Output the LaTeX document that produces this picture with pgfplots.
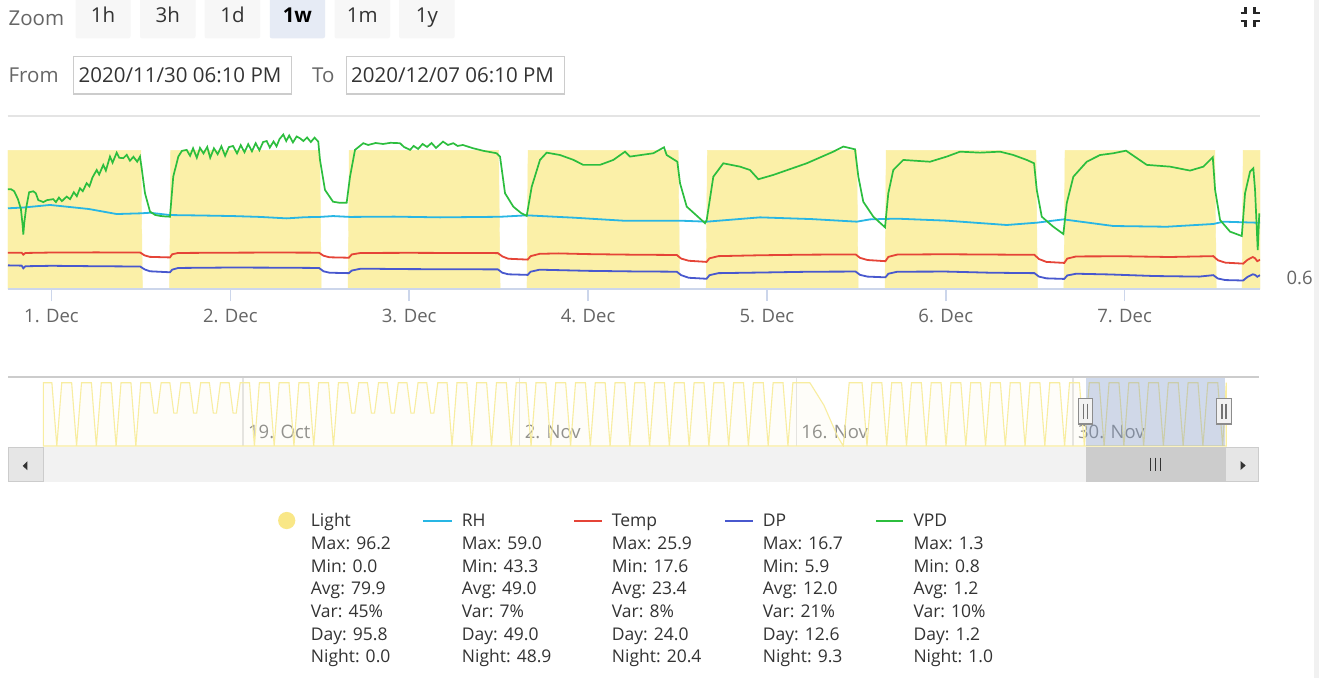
\documentclass[border=0pt]{standalone}
\usepackage{fontspec}
\setmainfont{Open Sans}
\usepackage{pgfplots}
\pgfplotsset{compat=1.18}
\definecolor{axisc}{RGB}{204,214,235}
\definecolor{gridc}{RGB}{228,228,228}
\definecolor{labelc}{RGB}{102,102,102}
\definecolor{navlabc}{RGB}{140,140,140}
\definecolor{textc}{RGB}{51,51,51}
\definecolor{lightc}{RGB}{251,240,168}
\definecolor{lightdot}{RGB}{249,231,135}
\definecolor{navline}{RGB}{248,237,160}
\definecolor{rhc}{RGB}{40,182,228}
\definecolor{tempc}{RGB}{229,68,55}
\definecolor{dpc}{RGB}{72,88,206}
\definecolor{vpdc}{RGB}{44,190,62}
\definecolor{btnc}{RGB}{247,247,247}
\definecolor{btnsel}{RGB}{230,235,245}
\definecolor{boxc}{RGB}{204,204,204}
\definecolor{maskc}{RGB}{102,133,194}
\definecolor{scrollbg}{RGB}{242,242,242}
\definecolor{scrollbtn}{RGB}{230,230,230}
\definecolor{thumbc}{RGB}{204,204,204}
\definecolor{stripc}{RGB}{241,241,241}
\newcommand{\uifont}{\fontsize{20.5}{24}\selectfont}
\newcommand{\lgfont}{\fontsize{17.5}{21}\selectfont}
\newcommand{\tkfont}{\fontsize{18.5}{22}\selectfont}
\begin{document}
\begin{tikzpicture}
\begin{scope}[x=1pt,y=-1pt]
\path[use as bounding box] (0,0) rectangle (1319,678);
\fill[white] (0,0) rectangle (1319,678);
\fill[stripc] (1314,0) rectangle (1319,678);
% zoom buttons
\node[anchor=base west,inner sep=0,text=labelc,font=\uifont] at (8.4,25.3) {Zoom};
\foreach \a/\b/\t in {75.5/130.5/1h,140/195.5/3h,204.7/260.2/1d,334.5/390/1m,399/454.6/1y}{
  \fill[btnc,rounded corners=2pt] (\a,-4) rectangle (\b,38.3);
  \node[anchor=base,inner sep=0,text=textc,font=\uifont] at ({(\a+\b)/2},22.3) {\t};
}
\fill[btnsel,rounded corners=2pt] (269.8,-4) rectangle (325,38.3);
\node[anchor=base,inner sep=0,text=black,font=\uifont\bfseries] at (297.4,22.3) {1w};
% from / to
\node[anchor=base west,inner sep=0,text=labelc,font=\uifont] at (8.4,82.3) {From};
\draw[boxc,line width=1.5pt,fill=white] (73.5,56.7) rectangle (291.5,94);
\node[anchor=base west,inner sep=0,text=textc,font=\uifont] at (78.5,82.3) {2020/11/30 06:10 PM};
\node[anchor=base west,inner sep=0,text=labelc,font=\uifont] at (312,82.3) {To};
\draw[boxc,line width=1.5pt,fill=white] (346.3,56.7) rectangle (564.5,94);
\node[anchor=base west,inner sep=0,text=textc,font=\uifont] at (351,82.3) {2020/12/07 06:10 PM};
% collapse icon
\begin{scope}[line width=2.6pt,black!85]
\draw (1240.5,13) -- (1245.5,13) -- (1245.5,7.3);
\draw (1259.5,13) -- (1254.5,13) -- (1254.5,7.3);
\draw (1240.5,21) -- (1245.5,21) -- (1245.5,26.7);
\draw (1259.5,21) -- (1254.5,21) -- (1254.5,26.7);
\end{scope}
\end{scope}

% main chart: Light, RH, Temp, DP
\begin{axis}[
  at={(8pt,-289pt)}, anchor=south west,
  scale only axis, width=1252pt, height=173pt,
  xmin=-5.8333, xmax=162.1667, ymin=0, ymax=120,
  axis line style={draw=none},
  ytick=\empty,
  xtick={0,24,48,72,96,120,144},
  xticklabels={1. Dec,2. Dec,3. Dec,4. Dec,5. Dec,6. Dec,7. Dec},
  xtick pos=left, xticklabel pos=left, tick align=outside, major tick length=12pt,
  xtick style={draw=axisc, line width=1.5pt},
  xticklabel style={font=\tkfont, text=labelc, yshift=-5pt},
  clip mode=individual,
]
\addplot[draw=lightc, fill=lightc, line width=0.4pt] coordinates {
(-5.8333,96.2)(12.0,96.2)(12.2,0)(15.85,0)(16.0,96.2)
(36.0,96.2)(36.2,0)(39.8,0)(39.95,96.2)
(60.0,96.2)(60.2,0)(63.8,0)(63.95,96.2)
(84.1,96.2)(84.3,0)(87.85,0)(88.0,96.2)
(108.05,96.2)(108.25,0)(111.85,0)(112.0,96.2)
(132.1,96.2)(132.3,0)(135.85,0)(136.0,96.2)
(156.1,96.2)(156.3,0)(159.75,0)(159.9,96.2)(162.1667,96.2)
} \closedcycle;
% RH
\addplot[rhc, line width=1.8pt] coordinates {
(-5.8333,56.0)(-3.8,56.5)(-0.2,58.3)(2.04,57.1)(5,55.5)(8.75,52.0)(12,52.5)(13.22,52.9)
(15.9,51.3)(20,51.0)(24.36,50.6)(28,50.0)(31.56,49.0)(34,49.8)(36,50.0)(37.78,50.6)
(40.06,50.0)(46,50.2)(52.13,49.7)(60.19,50.1)(63.77,51.1)(70,49.5)(76.69,47.4)(84.34,47.4)
(87.92,46.7)(95.07,49.7)(102,48.5)(108.05,46.7)(109.84,48.3)(113.42,48.8)(120.13,47.4)
(128.18,44.4)(132.21,46.0)(135.78,48.3)(142.49,43.7)(149.65,43.2)(155.90,45.1)(157.25,46.7)
(161.73,46.0)(162.1667,46.0)
};
% Temp
\addplot[tempc, line width=1.8pt] coordinates {
(-5.8333,25.2)(-4.0,25.2)(-3.78,23.8)(-3.5,25.0)(0,25.3)(6,25.4)(11.9,25.3)(12.5,23.3)(13.2,22.3)
(15.9,21.9)(16.2,24.1)(17,25.0)(24,25.2)(30,25.3)(35.9,25.2)(36.5,23.1)(37.3,22.0)(39.9,21.7)
(40.3,24.0)(41.5,25.0)(48,25.1)(54,25.0)(59.9,24.9)(60.5,22.6)(61.3,21.0)(63.9,20.4)(64.3,22.8)
(65.5,24.4)(68,24.7)(72,24.2)(78,23.8)(83.9,23.6)(84.5,21.1)(85.5,19.6)(87.9,18.8)(88.3,21.3)
(89.5,22.8)(95,23.4)(101,23.8)(107.9,24.0)(108.5,21.6)(109.5,20.1)(111.9,19.3)(112.3,22.3)
(113.5,23.9)(120,24.1)(126,23.9)(131.9,23.7)(132.5,20.8)(133.5,18.8)(135.9,18.1)(136.3,21.1)
(137.5,22.6)(144,22.7)(150,22.2)(155.9,22.8)(156.5,20.0)(157.5,18.3)(159.9,17.6)(160.5,20.3)
(161.2,22.2)(161.5,21.3)(161.8,19.3)(162.1667,20.3)
};
% DP
\addplot[dpc, line width=1.8pt] coordinates {
(-5.8333,16.4)(-4.0,16.2)(-3.78,14.4)(-3.5,15.8)(0,16.1)(6,15.8)(11.9,15.6)(12.5,13.6)(13.2,12.3)
(15.9,11.6)(16.2,13.4)(17,14.6)(24,14.9)(30,14.8)(35.9,14.6)(36.5,12.3)(37.3,11.3)(39.9,11.0)
(40.3,12.8)(41.5,14.1)(48,13.8)(54,13.7)(59.9,13.6)(60.5,11.3)(61.3,10.2)(63.9,9.8)(64.3,12.0)
(65.5,13.4)(72,12.6)(78,12.2)(83.9,12.0)(84.5,9.6)(85.5,7.8)(87.9,7.1)(88.3,9.6)(89.5,11.0)
(96,11.5)(102,12.0)(107.9,12.1)(108.5,9.8)(109.5,8.6)(111.9,8.1)(112.3,10.6)(113.5,12.0)
(120,12.1)(126,11.3)(131.9,11.0)(132.5,8.6)(133.5,7.4)(135.9,7.0)(136.3,9.4)(137.5,10.6)
(142,10.1)(148,9.0)(154,8.6)(155.9,9.6)(156.5,7.3)(157.5,6.2)(159.9,5.9)(160.5,8.4)
(161.2,10.2)(161.5,9.8)(161.8,8.5)(162.1667,9.6)
};
\draw[axisc, line width=1.5pt] (rel axis cs:0,0) -- (rel axis cs:1,0);
\draw[gridc, line width=1.5pt] (rel axis cs:0,1) -- (rel axis cs:1,1);
\end{axis}

% main chart: VPD
\begin{axis}[
  at={(8pt,-289pt)}, anchor=south west,
  scale only axis, width=1252pt, height=173pt,
  xmin=-5.8333, xmax=162.1667, ymin=0.544, ymax=1.422,
  axis line style={draw=none},
  xtick=\empty,
  ytick={0.6}, yticklabels={0.6},
  ytick pos=right, yticklabel pos=right, major tick length=0pt,
  yticklabel style={font=\tkfont, text=labelc, anchor=west, xshift=23pt},
  clip mode=individual,
]
\addplot[vpdc, line width=1.7pt] coordinates {
(-5.8333,1.05)(-5.4,1.05)(-5.0,1.04)(-4.5,1.0)(-4.1,0.95)(-3.85,0.86)(-3.78,0.82)(-3.65,0.88)
(-3.42,0.95)(-3.0,1.035)(-2.44,1.04)(-2.1,1.03)(-1.77,0.995)(-1.4,0.99)(-1.10,0.985)(-0.6,0.995)
(0.24,1.0)(0.6,0.985)(1.0,1.008)(1.4,0.99)(2.04,1.013)(2.5,1.0)(3.0,1.035)(3.4,1.015)(3.82,1.055)
(4.2,1.04)(4.72,1.081)(5.1,1.065)(5.5,1.11)(6.07,1.148)(6.4,1.125)(6.95,1.174)(7.3,1.145)(7.85,1.216)
(8.2,1.185)(8.75,1.236)(9.1,1.21)(9.64,1.208)(10.1,1.225)(10.53,1.195)(11.0,1.215)(11.5,1.19)
(11.88,1.216)(12.10,1.158)(12.55,1.03)(13.22,0.937)(13.9,0.92)(14.56,0.915)(15.3,0.912)(15.90,0.911)
(16.34,1.114)(17.02,1.216)(17.5,1.245)(18.14,1.250)(18.6,1.22)(19.0,1.258)(19.5,1.21)(19.93,1.26)
(20.4,1.232)(20.9,1.265)(21.3,1.21)(21.8,1.258)(22.3,1.228)(22.8,1.268)(23.3,1.22)(23.8,1.264)
(24.36,1.27)(24.9,1.232)(25.4,1.274)(25.9,1.238)(26.4,1.279)(26.9,1.243)(27.4,1.284)(27.9,1.248)
(28.4,1.29)(28.88,1.295)(29.3,1.262)(29.8,1.293)(30.2,1.268)(30.6,1.305)(31.11,1.328)(31.5,1.295)
(31.9,1.323)(32.4,1.288)(32.9,1.318)(33.35,1.309)(33.8,1.295)(34.3,1.313)(34.8,1.29)(35.3,1.312)
(35.80,1.292)(36.03,1.199)(36.70,1.047)(37.78,0.987)(38.6,0.982)(39.61,0.982)(40.06,1.114)
(40.73,1.250)(41.84,1.284)(42.5,1.275)(43.5,1.285)(44.5,1.28)(45.5,1.286)(46.76,1.284)(47.3,1.265)
(48.11,1.250)(48.6,1.27)(49.2,1.255)(49.8,1.28)(50.4,1.265)(51.0,1.285)(51.6,1.26)(52.54,1.292)
(53.2,1.275)(53.92,1.284)(54.5,1.27)(55.2,1.275)(56.60,1.258)(58.0,1.245)(59.74,1.233)(60.19,1.216)
(60.86,1.030)(61.97,0.962)(63.0,0.93)(63.77,0.915)(64.44,1.063)(65.55,1.199)(66.45,1.236)
(68.24,1.224)(70.0,1.20)(71.36,1.174)(73.60,1.174)(75.39,1.199)(76.96,1.241)(77.63,1.216)
(80.76,1.233)(82.19,1.263)(82.55,1.224)(83.98,1.190)(84.34,1.081)(85.24,0.962)(87.70,0.878)
(87.92,0.894)(88.81,1.114)(90.15,1.182)(92.39,1.165)(93.73,1.148)(94.85,1.101)(96.86,1.123)
(101.34,1.182)(104.91,1.241)(106.25,1.267)(107.82,1.253)(108.27,1.114)(108.93,0.987)(110.28,0.911)
(111.85,0.857)(112.29,1.030)(112.96,1.148)(114.30,1.199)(117.89,1.190)(120.13,1.216)(121.91,1.241)
(124.60,1.236)(127.28,1.241)(129.07,1.224)(130.87,1.199)(131.85,1.182)(132.21,1.047)(132.88,0.911)
(134.43,0.860)(135.78,0.823)(136.23,0.979)(137.12,1.114)(138.92,1.190)(140.70,1.224)(142.49,1.233)
(144.19,1.246)(146.97,1.174)(150.10,1.165)(152.78,1.145)(154.57,1.165)(155.83,1.213)(156.14,1.047)
(156.81,0.894)(158.15,0.835)(159.72,0.813)(160.16,1.030)(160.83,1.140)(161.27,1.157)(161.50,1.047)
(161.86,0.742)(162.07,0.928)
};
\end{axis}

% navigator
\begin{axis}[
  at={(9pt,-446pt)}, anchor=south west,
  scale only axis, width=1250pt, height=69pt,
  xmin=-54.84, xmax=8.42, ymin=0, ymax=104.9,
  axis line style={draw=none},
  ytick=\empty,
  xtick={-43,-29,-15,-1},
  xticklabels={19. Oct,2. Nov,16. Nov,30. Nov},
  xmajorgrids, grid style={gridc, line width=1.5pt},
  xtick pos=left, xticklabel pos=left, major tick length=0pt,
  xticklabel style={font=\tkfont, text=navlabc, anchor=base west, inner sep=0pt, xshift=5pt, yshift=7.4pt},
  clip mode=individual,
]
\addplot[draw=navline, line width=1.1pt, fill=navline, fill opacity=0.06] coordinates {
(-53.1,96.2)
(-52.67,96.2)(-52.42,0)(-52.17,96.2)(-51.67,96.2)(-51.42,0)(-51.17,96.2)
(-50.67,96.2)(-50.42,0)(-50.17,96.2)(-49.67,96.2)(-49.42,0)(-49.17,96.2)
(-48.67,96.2)(-48.42,0)(-48.17,96.2)
(-47.70,96.2)(-47.50,50)(-47.34,50)(-47.14,96.2)(-46.70,96.2)(-46.50,50)(-46.34,50)(-46.14,96.2)
(-45.70,96.2)(-45.50,50)(-45.34,50)(-45.14,96.2)(-44.70,96.2)(-44.50,50)(-44.34,50)(-44.14,96.2)
(-43.70,96.2)(-43.50,50)(-43.34,50)(-43.14,96.2)
(-42.67,96.2)(-42.42,0)(-42.17,96.2)(-41.67,96.2)(-41.42,0)(-41.17,96.2)
(-40.67,96.2)(-40.42,0)(-40.17,96.2)(-39.67,96.2)(-39.42,0)(-39.17,96.2)
(-38.67,96.2)(-38.42,0)(-38.17,96.2)
(-37.70,96.2)(-37.50,50)(-37.34,50)(-37.14,96.2)(-36.70,96.2)(-36.50,50)(-36.34,50)(-36.14,96.2)
(-35.70,96.2)(-35.50,50)(-35.34,50)(-35.14,96.2)(-34.70,96.2)(-34.50,50)(-34.34,50)(-34.14,96.2)
(-33.70,96.2)(-33.50,50)(-33.34,50)(-33.14,96.2)
(-32.67,96.2)(-32.42,0)(-32.17,96.2)(-31.67,96.2)(-31.42,0)(-31.17,96.2)
(-30.67,96.2)(-30.42,0)(-30.17,96.2)(-29.67,96.2)(-29.42,0)(-29.17,96.2)
(-28.67,96.2)(-28.42,0)(-28.17,96.2)(-27.67,96.2)(-27.42,0)(-27.17,96.2)
(-26.67,96.2)(-26.42,0)(-26.17,96.2)(-25.67,96.2)(-25.42,0)(-25.17,96.2)
(-24.67,96.2)(-24.42,0)(-24.17,96.2)(-23.67,96.2)(-23.42,0)(-23.17,96.2)
(-22.67,96.2)(-22.42,0)(-22.17,96.2)(-21.67,96.2)(-21.42,0)(-21.17,96.2)
(-20.67,96.2)(-20.42,0)(-20.17,96.2)(-19.67,96.2)(-19.42,0)(-19.17,96.2)
(-18.67,96.2)(-18.42,0)(-18.17,96.2)(-17.67,96.2)(-17.42,0)(-17.17,96.2)
(-16.67,96.2)(-16.42,0)(-16.17,96.2)(-15.67,96.2)(-15.42,0)(-15.17,96.2)
(-14.31,96.2)(-13.6,62)(-12.9,14)(-12.62,0)(-12.32,96.2)
(-11.67,96.2)(-11.42,0)(-11.17,96.2)(-10.67,96.2)(-10.42,0)(-10.17,96.2)
(-9.67,96.2)(-9.42,0)(-9.17,96.2)(-8.67,96.2)(-8.42,0)(-8.17,96.2)
(-7.67,96.2)(-7.42,0)(-7.17,96.2)(-6.67,96.2)(-6.42,0)(-6.17,96.2)
(-5.67,96.2)(-5.42,0)(-5.17,96.2)(-4.67,96.2)(-4.42,0)(-4.17,96.2)
(-3.67,96.2)(-3.42,0)(-3.17,96.2)(-2.67,96.2)(-2.42,0)(-2.17,96.2)
(-1.67,96.2)(-1.42,0)(-1.17,96.2)(-0.67,96.2)(-0.42,0)(-0.17,96.2)
(0.33,96.2)(0.58,0)(0.83,96.2)(1.33,96.2)(1.58,0)(1.83,96.2)
(2.33,96.2)(2.58,0)(2.83,96.2)(3.33,96.2)(3.58,0)(3.83,96.2)
(4.33,96.2)(4.58,0)(4.83,96.2)(5.33,96.2)(5.58,0)(5.83,96.2)
(6.33,96.2)(6.58,0)(6.76,96.2)
} \closedcycle;
\fill[maskc, fill opacity=0.3] (axis cs:-0.32,0) rectangle (axis cs:6.72,104.9);
\end{axis}

\begin{scope}[x=1pt,y=-1pt]
% navigator outline
\draw[boxc, line width=1.5pt] (8,377) -- (1259,377);
% scrollbar
\fill[scrollbg] (8,447) rectangle (1259,482);
\draw[boxc, line width=1pt, fill=scrollbtn] (8.5,447.5) rectangle (43,481.5);
\fill[textc] (22.7,465.8) -- (27.3,461.4) -- (27.3,470.2) -- cycle;
\fill[thumbc] (1086,447) rectangle (1225,482);
\draw[boxc, line width=1pt, fill=scrollbtn] (1225,447.5) rectangle (1258.5,481.5);
\fill[textc] (1245.7,465.5) -- (1240.5,461) -- (1240.5,470) -- cycle;
\draw[textc, line width=1.4pt] (1150.3,457.5) -- (1150.3,471) (1155.3,457.5) -- (1155.3,471) (1160.3,457.5) -- (1160.3,471);
% handles
\foreach \hx in {1085.5,1224}{
  \draw[black!45, line width=1.2pt, fill=scrollbg] ({\hx-7.2},398.3) rectangle ({\hx+7.2},424);
  \draw[black!55, line width=1.1pt] ({\hx-2},403.5) -- ({\hx-2},418.5) ({\hx+2},403.5) -- ({\hx+2},418.5);
}
% legend
\fill[lightdot] (286.7,520.5) circle (8.6);
\draw[rhc, line width=2pt] (423.3,520.7) -- (451.7,520.7);
\draw[tempc, line width=2pt] (574,520.7) -- (602.3,520.7);
\draw[dpc, line width=2pt] (725,520.7) -- (753,520.7);
\draw[vpdc, line width=2pt] (876,520.7) -- (903.3,520.7);
\foreach \x/\n/\mx/\mn/\av/\va/\dy/\ni in {
  310.7/Light/96.2/0.0/79.9/45/95.8/0.0,
  461.7/RH/59.0/43.3/49.0/7/49.0/48.9,
  611.7/Temp/25.9/17.6/23.4/8/24.0/20.4,
  762.7/DP/16.7/5.9/12.0/21/12.6/9.3,
  913.3/VPD/1.3/0.8/1.2/10/1.2/1.0}{
  \node[anchor=base west,inner sep=0,text=textc,font=\lgfont] at (\x,526.95) {\n};
  \node[anchor=base west,inner sep=0,text=textc,font=\lgfont] at (\x,549.6) {Max: \mx};
  \node[anchor=base west,inner sep=0,text=textc,font=\lgfont] at (\x,572.3) {Min: \mn};
  \node[anchor=base west,inner sep=0,text=textc,font=\lgfont] at (\x,594.9) {Avg: \av};
  \node[anchor=base west,inner sep=0,text=textc,font=\lgfont] at (\x,617.6) {Var: \va\%};
  \node[anchor=base west,inner sep=0,text=textc,font=\lgfont] at (\x,640.3) {Day: \dy};
  \node[anchor=base west,inner sep=0,text=textc,font=\lgfont] at (\x,662.95) {Night: \ni};
}
\end{scope}
\end{tikzpicture}
\end{document}
